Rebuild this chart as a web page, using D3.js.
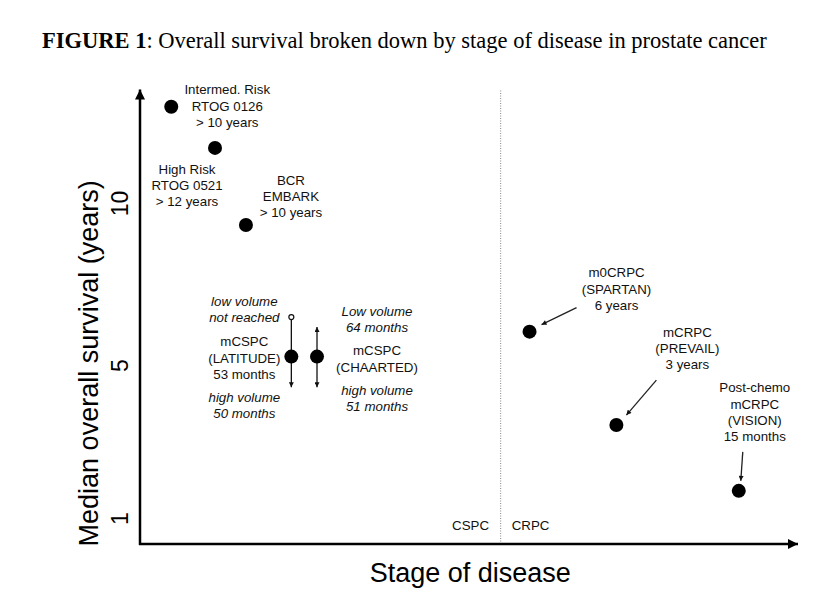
<!DOCTYPE html>
<html>
<head>
<meta charset="utf-8">
<script src="https://cdn.jsdelivr.net/npm/d3@7"></script>
<style>
body { margin: 0; background: #fff; }
svg { display: block; }
.ann { font-family: "Liberation Sans", Arial, Helvetica, sans-serif; font-size: 13.3px; fill: #111; }
.ann.it { font-style: italic; }
</style>
</head>
<body>
<svg id="chart"></svg>
<script>
// stage position is arbitrary (0 = origin, 100 = end of arrow)
var stages = ["Intermed. Risk", "High Risk", "BCR", "LATITUDE", "CHAARTED", "SPARTAN", "PREVAIL", "VISION"];
var stagePos = [4.75, 11.4, 16.1, 23.0, 26.9, 59.2, 72.4, 91.0];
var survival = [12.97, 11.7, 9.32, 5.26, 5.26, 6.03, 3.43, 1.71];
var lowVolume = [null, null, null, 6.48, 6.17, null, null, null];
var highVolume = [null, null, null, 4.42, 4.42, null, null, null];
var yTicks = [1, 5, 10];
var yTickPix = [518, 365, 203];
var dividerPos = 54.8;
var labels = [
	["Intermed. Risk", "RTOG 0126", "> 10 years"],
	["High Risk", "RTOG 0521", "> 12 years"],
	["BCR", "EMBARK", "> 10 years"],
	["mCSPC", "(LATITUDE)", "53 months"],
	["mCSPC", "(CHAARTED)"],
	["m0CRPC", "(SPARTAN)", "6 years"],
	["mCRPC", "(PREVAIL)", "3 years"],
	["Post-chemo", "mCRPC", "(VISION)", "15 months"]
];
var lowText = [null, null, null, ["low volume", "not reached"], ["Low volume", "64 months"]];
var highText = [null, null, null, ["high volume", "50 months"], ["high volume", "51 months"]];

var width = 836, height = 604;
var svg = d3.select("#chart").attr("width", width).attr("height", height);
svg.append("rect").attr("width", width).attr("height", height).attr("fill", "#fff");

var x = d3.scaleLinear().domain([0, 100]).range([140, 798]);
var y = d3.scaleLinear().domain(yTicks).range(yTickPix);
var yBottom = 0.32, yTop = 13.5;

var defs = svg.append("defs");
defs.append("marker").attr("id", "big").attr("viewBox", "0 0 10 10").attr("refX", 10).attr("refY", 5)
	.attr("markerWidth", 12).attr("markerHeight", 10).attr("markerUnits", "userSpaceOnUse").attr("orient", "auto")
	.append("path").attr("d", "M0,0L10,5L0,10z").attr("fill", "#000");
defs.append("marker").attr("id", "small").attr("viewBox", "0 0 10 10").attr("refX", 10).attr("refY", 5)
	.attr("markerWidth", 6).attr("markerHeight", 5).attr("markerUnits", "userSpaceOnUse").attr("orient", "auto")
	.append("path").attr("d", "M0,0L10,5L0,10z").attr("fill", "#111");

// title
var title = svg.append("text").attr("x", 42).attr("y", 48)
	.attr("font-family", "'Liberation Serif', 'Times New Roman', serif").attr("font-size", 22.5).attr("fill", "#000");
title.append("tspan").attr("font-weight", "bold").text("FIGURE 1");
title.append("tspan").text(": Overall survival broken down by stage of disease in prostate cancer");

// divider
svg.append("line").attr("x1", x(dividerPos)).attr("x2", x(dividerPos)).attr("y1", y(yTop) + 1).attr("y2", y(yBottom))
	.attr("stroke", "#999").attr("stroke-width", 1.2).attr("stroke-dasharray", "1,1.5");

// axes
svg.append("line").attr("x1", x(0)).attr("x2", x(0)).attr("y1", y(yBottom) + 1).attr("y2", y(yTop))
	.attr("stroke", "#000").attr("stroke-width", 2.5).attr("marker-end", "url(#big)");
svg.append("line").attr("x1", x(0) - 1).attr("x2", x(100)).attr("y1", y(yBottom)).attr("y2", y(yBottom))
	.attr("stroke", "#000").attr("stroke-width", 2.5).attr("marker-end", "url(#big)");

var yAxis = svg.append("g").attr("transform", "translate(" + (x(0) - 12) + ",0)")
	.call(d3.axisLeft(y).tickValues(yTicks).tickSize(0).tickPadding(0));
yAxis.select(".domain").remove();
yAxis.selectAll("text")
	.attr("font-family", "'Liberation Sans', Arial, sans-serif").attr("font-size", 23).attr("fill", "#000")
	.attr("text-anchor", "middle").attr("x", 0).attr("y", 0).attr("dy", 0)
	.attr("transform", "rotate(-90)");

svg.append("text").attr("transform", "translate(98," + y(5.05) + ") rotate(-90)")
	.attr("text-anchor", "middle").attr("font-family", "'Liberation Sans', Arial, sans-serif")
	.attr("font-size", 27).attr("fill", "#000").text("Median overall survival (years)");
svg.append("text").attr("x", x(50.2)).attr("y", 582).attr("text-anchor", "middle")
	.attr("font-family", "'Liberation Sans', Arial, sans-serif").attr("font-size", 27).attr("fill", "#000")
	.text("Stage of disease");

svg.append("text").attr("class", "ann").attr("x", x(dividerPos) - 30).attr("y", 530).attr("text-anchor", "middle").text("CSPC");
svg.append("text").attr("class", "ann").attr("x", x(dividerPos) + 30).attr("y", 530).attr("text-anchor", "middle").text("CRPC");

// error bars (low / high volume)
stages.forEach(function(s, i) {
	if (lowVolume[i] == null) return;
	var cx = x(stagePos[i]);
	var open = (i == 3);
	svg.append("line").attr("x1", cx).attr("x2", cx).attr("y1", y(survival[i])).attr("y2", y(highVolume[i]))
		.attr("stroke", "#111").attr("stroke-width", 1.3).attr("marker-end", "url(#small)");
	svg.append("line").attr("x1", cx).attr("x2", cx).attr("y1", y(survival[i]))
		.attr("y2", open ? y(lowVolume[i]) + 2.5 : y(lowVolume[i]))
		.attr("stroke", "#111").attr("stroke-width", 1.3).attr("marker-end", open ? null : "url(#small)");
	if (open) {
		svg.append("circle").attr("cx", cx).attr("cy", y(lowVolume[i])).attr("r", 2.5)
			.attr("fill", "#fff").attr("stroke", "#111").attr("stroke-width", 1.2);
	}
});

svg.selectAll(".pt").data(stages).enter().append("circle").attr("class", "pt")
	.attr("cx", function(d, i) { return x(stagePos[i]); })
	.attr("cy", function(d, i) { return y(survival[i]); })
	.attr("r", 7).attr("fill", "#000");

// annotation offsets from each point: [dx, dy of first line centre]
var labelOff = [[56, -17], [-28, 21], [45, -45], [-47, -15], [60, -6], [87, -59], [71, -93], [16, -103]];
var lineH = 16.3;
labels.forEach(function(lines, i) {
	var px = x(stagePos[i]) + labelOff[i][0], py = y(survival[i]) + labelOff[i][1];
	lines.forEach(function(t, j) {
		svg.append("text").attr("class", "ann").attr("x", px).attr("y", py + j * lineH).attr("dy", "0.35em")
			.attr("text-anchor", "middle").text(t);
	});
	if (lowText[i]) {
		lowText[i].forEach(function(t, j) {
			svg.append("text").attr("class", "ann it").attr("x", px).attr("y", (i == 3 ? 301 : 311) + j * lineH)
				.attr("dy", "0.35em").attr("text-anchor", "middle").text(t);
		});
		highText[i].forEach(function(t, j) {
			svg.append("text").attr("class", "ann it").attr("x", px).attr("y", (i == 3 ? 397 : 390) + j * lineH)
				.attr("dy", "0.35em").attr("text-anchor", "middle").text(t);
		});
	}
});

// pointer arrows to CRPC points: [from dx, from dy, to dx, to dy] relative to point
var arrowOff = { 5: [47, -24, 12, -7], 6: [40, -45, 10, -10], 7: [4, -39, 2, -10] };
Object.keys(arrowOff).forEach(function(k) {
	var o = arrowOff[k], cx = x(stagePos[k]), cy = y(survival[k]);
	svg.append("line").attr("x1", cx + o[0]).attr("y1", cy + o[1]).attr("x2", cx + o[2]).attr("y2", cy + o[3])
		.attr("stroke", "#222").attr("stroke-width", 1.3).attr("marker-end", "url(#small)");
});
</script>
</body>
</html>
